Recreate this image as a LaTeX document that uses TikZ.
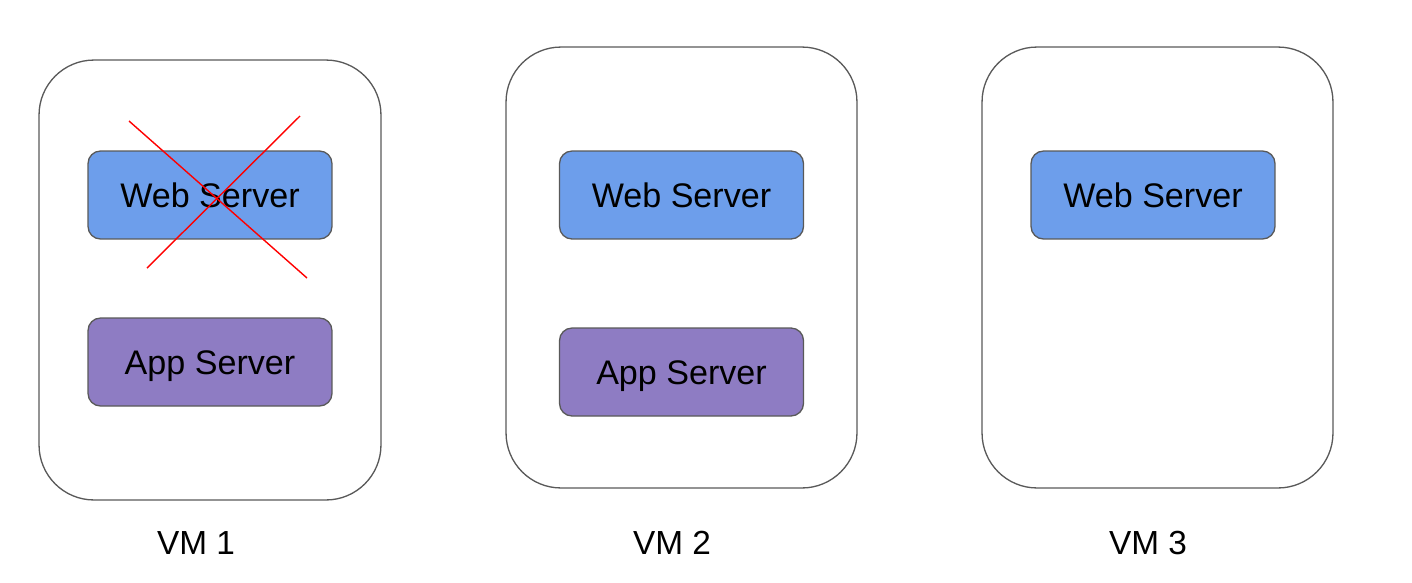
\documentclass[tikz,border=0pt]{standalone}
\usepackage{fontspec}
\setmainfont{Liberation Sans}
\definecolor{webblue}{HTML}{6D9EEB}
\definecolor{apppurple}{HTML}{8E7CC3}
\definecolor{edgegray}{HTML}{595959}
\tikzset{
	vmbox/.style={draw=edgegray, line width=0.75pt, rounded corners=1.1cm, minimum width=#1},
	vmbox/.default=7.02cm,
	srvbox/.style={draw=edgegray, line width=0.75pt, rounded corners=0.25cm, minimum width=4.88cm, minimum height=1.76cm, text height=0.49cm, text depth=0pt, font=\fontsize{19.4}{22}\selectfont},
	vmlabel/.style={inner sep=0pt, text height=0.47cm, text depth=0pt, font=\fontsize{19}{22}\selectfont}
}

\begin{document}
\begin{tikzpicture}[x=0.02cm, y=-0.02cm]
			%%%%% START %%%%%
			
			\useasboundingbox (0, 0) rectangle (1412, 582);
			
			\node[vmbox=6.84cm, minimum height=8.8cm] (vm1) at (210, 280) {};
			\node[vmbox, minimum height=8.82cm] (vm2) at (681.5, 267.5) {};
			\node[vmbox, minimum height=8.82cm] (vm3) at (1157.5, 267.5) {};
			
			\node[srvbox, fill=webblue] (web1) at (210, 195) {Web Server};
			\node[srvbox, fill=apppurple] (app1) at (210, 362) {App Server};
			
			\node[srvbox, fill=webblue] (web2) at (681.5, 195) {Web Server};
			\node[srvbox, fill=apppurple] (app2) at (681.5, 372) {App Server};
			
			\node[srvbox, fill=webblue] (web3) at (1153, 195) {Web Server};
			
			\coordinate (crossA) at (129, 121);
			\coordinate (crossB) at (307, 278);
			\coordinate (crossC) at (300, 116);
			\coordinate (crossD) at (147, 268);
			\draw[red, line width=0.8pt] (crossA) -- (crossB);
			\draw[red, line width=0.8pt] (crossC) -- (crossD);
			
			\node[vmlabel] (lbl1) at (196, 543) {VM 1};
			\node[vmlabel] (lbl2) at (672, 543) {VM 2};
			\node[vmlabel] (lbl3) at (1148, 543) {VM 3};
			
			%%%%% END %%%%%
\end{tikzpicture}
\end{document}
